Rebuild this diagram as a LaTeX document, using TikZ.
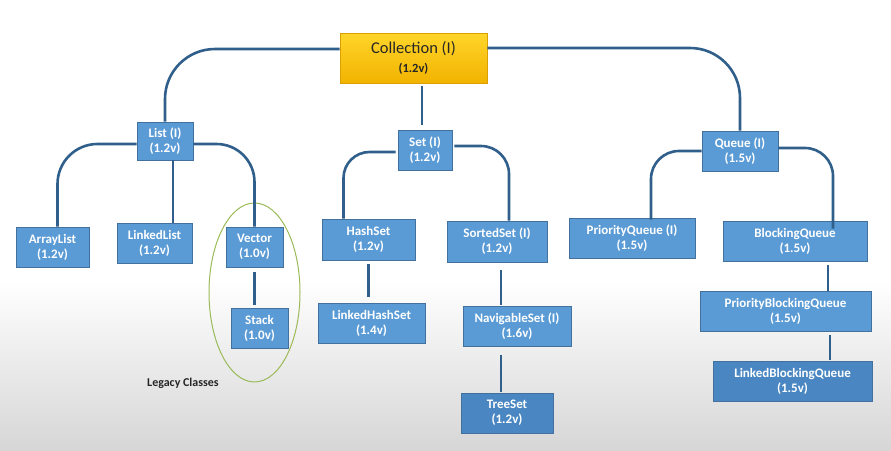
\documentclass[tikz,border=0pt]{standalone}
\usepackage{fontspec}
\setmainfont{Carlito}
\begin{document}
\definecolor{boxfill}{HTML}{5B9BD5}
\definecolor{boxdark}{HTML}{4A87C2}
\definecolor{boxline}{HTML}{41719C}
\definecolor{wire}{HTML}{2F5F8A}
\definecolor{goldtop}{HTML}{FFD52A}
\definecolor{goldbot}{HTML}{F2B300}
\definecolor{goldline}{HTML}{D9A000}
\definecolor{legacy}{HTML}{9BBB59}
\begin{tikzpicture}[x=1pt,y=-1pt,
  cls/.style={draw=boxline, line width=0.8pt, fill=boxfill, text=white,
    font=\fontsize{13}{15}\selectfont\bfseries, align=center,
    inner sep=0pt, anchor=center},
  clsdark/.style={cls, fill=boxdark},
  root/.style={draw=goldline, line width=0.8pt, top color=goldtop, bottom color=goldbot,
    text=black!85, align=center, inner sep=0pt, minimum width=147pt, minimum height=50pt},
  conn/.style={draw=wire, line width=2.6pt},
  legacyring/.style={draw=legacy, line width=1pt}]
% page and background
\useasboundingbox (0,0) rectangle (891,450);
\fill[white] (0,0) rectangle (891,450);
\shade[top color=white, bottom color=black!16] (0,280) rectangle (891,450);

% root interface
\node[root] (coll) at (413.5,58) {{\fontsize{16.5}{17}\selectfont Collection (I)}\\[7pt]{\fontsize{12.5}{13}\selectfont\bfseries (1.2v)}};

% second level interfaces
\node[cls, minimum width=56pt, minimum height=38pt] (list) at (165,141) {List (I)\\(1.2v)};
\node[cls, minimum width=54pt, minimum height=40pt] (set) at (425,150) {Set (I)\\(1.2v)};
\node[cls, minimum width=76pt, minimum height=40pt] (queue) at (740,151) {Queue (I)\\(1.5v)};

% List branch
\node[cls, minimum width=73pt, minimum height=40pt] (arraylist) at (52.5,247) {ArrayList\\(1.2v)};
\node[cls, minimum width=75pt, minimum height=40pt] (linkedlist) at (154.5,243) {LinkedList\\(1.2v)};
\node[cls, minimum width=57pt, minimum height=40pt] (vector) at (254.5,247) {Vector\\(1.0v)};
\node[cls, minimum width=57pt, minimum height=40pt] (stack) at (259.5,328) {Stack\\(1.0v)};

% Set branch
\node[cls, minimum width=93pt, minimum height=41pt] (hashset) at (368.5,239.5) {HashSet\\(1.2v)};
\node[cls, minimum width=107pt, minimum height=40pt] (lhs) at (371.5,323) {LinkedHashSet\\(1.4v)};
\node[cls, minimum width=100pt, minimum height=41pt] (sortedset) at (497,241.5) {SortedSet (I)\\(1.2v)};
\node[cls, minimum width=108pt, minimum height=40pt] (navset) at (517,326) {NavigableSet (I)\\(1.6v)};
\node[clsdark, minimum width=92pt, minimum height=40pt] (treeset) at (507,413) {TreeSet\\(1.2v)};

% Queue branch
\node[cls, minimum width=126pt, minimum height=40pt] (pq) at (632,238) {PriorityQueue (I)\\(1.5v)};
\node[cls, minimum width=144pt, minimum height=40pt] (bq) at (795,241) {BlockingQueue\\(1.5v)};
\node[cls, minimum width=171pt, minimum height=40pt] (pbq) at (785.5,311) {PriorityBlockingQueue\\(1.5v)};
\node[clsdark, minimum width=159pt, minimum height=40pt] (lbq) at (792.5,381) {LinkedBlockingQueue\\(1.5v)};

% legacy classes marker
\draw[legacyring] (254.5,292.5) ellipse [x radius=45.5, y radius=89.5];
\node[font=\fontsize{12}{14}\selectfont\bfseries, text=black!85] (legacylbl) at (183,383) {Legacy Classes};

% connectors from the root
\draw[conn, rounded corners=50pt] ([yshift=9pt]coll.west) -| (list.north);
\draw[conn, rounded corners=50pt] ([yshift=10pt]coll.east) -| (queue.north);
\draw[conn] ([xshift=8.5pt,yshift=-3pt]coll.south) -- ([xshift=-3pt,yshift=5pt]set.north);

% List connectors
\draw[conn, rounded corners=40pt] ([yshift=-3pt]list.west) -| ([xshift=5pt]arraylist.north);
\draw[conn] ([xshift=8pt]list.south) -- ([xshift=18.5pt]linkedlist.north);
\draw[conn, rounded corners=38pt] ([yshift=-3pt]list.east) -| (vector.north);
\draw[conn] ([yshift=-5pt]vector.south) -- ([xshift=-5pt,yshift=3pt]stack.north);

% Set connectors
\draw[conn, rounded corners=26pt] ([xshift=-2pt,yshift=-2pt]set.west) -| ([xshift=-25pt]hashset.north);
\draw[conn, rounded corners=28pt] ([xshift=2pt,yshift=4pt]set.east) -| ([xshift=12pt]sortedset.north);
\draw[conn] ([yshift=-4pt]hashset.south) -- ([xshift=-3pt,yshift=6pt]lhs.north);
\draw[conn] ([xshift=4pt,yshift=-8pt]sortedset.south) -- ([xshift=-16pt,yshift=1pt]navset.north);
\draw[conn] ([xshift=-16pt,yshift=-9pt]navset.south) -- ([xshift=-6pt,yshift=1pt]treeset.north);

% Queue connectors
\draw[conn, rounded corners=28pt] (queue.west) -| ([xshift=19pt,yshift=-2pt]pq.north);
\draw[conn, rounded corners=28pt] ([yshift=3pt]queue.east) -| ([xshift=38pt,yshift=-8pt]bq.north);
\draw[conn] ([xshift=33pt,yshift=-4pt]bq.south) -- ([xshift=42.5pt]pbq.north);
\draw[conn] ([xshift=44.5pt,yshift=-4pt]pbq.south) -- ([xshift=37.5pt,yshift=1pt]lbq.north);
\end{tikzpicture}
\end{document}
